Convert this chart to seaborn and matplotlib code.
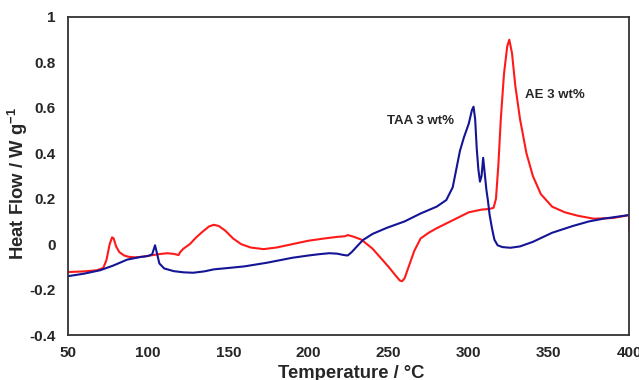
import pandas as pd
import matplotlib
matplotlib.use("Agg")
import matplotlib.pyplot as plt
import seaborn as sns

# DSC traces
taa_temp = [50, 60, 70, 78, 87, 95, 100, 102.5, 104.3, 105.5, 107, 110, 116, 122, 128, 135, 141,
            150, 160, 174, 190, 200, 207, 213, 218, 222, 224.5, 227, 230, 234, 240, 249, 260, 270,
            280, 286, 290, 294.5, 297, 300, 302, 303, 304, 305, 306, 307, 308, 309, 310, 311, 312,
            313, 314.5, 316, 318, 321, 326, 332, 340, 352, 365, 375, 384, 392, 400]
taa_flow = [-0.141, -0.13, -0.115, -0.095, -0.068, -0.057, -0.052, -0.045, -0.005, -0.04, -0.085,
            -0.107, -0.119, -0.124, -0.126, -0.12, -0.111, -0.105, -0.098, -0.082, -0.06, -0.05,
            -0.044, -0.04, -0.042, -0.048, -0.05, -0.035, -0.012, 0.018, 0.045, 0.072, 0.1, 0.135,
            0.165, 0.194, 0.25, 0.41, 0.47, 0.53, 0.59, 0.605, 0.55, 0.42, 0.33, 0.275, 0.3, 0.38,
            0.31, 0.24, 0.19, 0.13, 0.07, 0.02, -0.005, -0.013, -0.016, -0.01, 0.01, 0.05, 0.08,
            0.1, 0.112, 0.12, 0.128]

ae_temp = [50, 60, 68, 72, 74, 76, 77.5, 78.5, 80, 82, 85, 88, 92, 97, 103, 108, 112, 116, 119,
           120, 122, 126, 130, 134, 138, 141, 144, 148, 153, 158, 164, 172, 180, 190, 200, 210,
           218, 223, 224.5, 228, 233, 240, 245, 250, 254, 257, 258.5, 260, 263, 266, 270, 275,
           280, 290, 300, 308, 313, 315.5, 317, 318.5, 320, 322, 324, 325.3, 327, 329, 332, 336,
           340, 345, 352, 360, 368, 378, 390, 400, 400]
ae_flow = [-0.123, -0.12, -0.115, -0.105, -0.07, 0.0, 0.03, 0.025, -0.01, -0.035, -0.05, -0.056,
           -0.058, -0.055, -0.048, -0.043, -0.04, -0.043, -0.048, -0.035, -0.02, 0.0, 0.03, 0.055,
           0.078, 0.085, 0.08, 0.06, 0.025, 0.0, -0.015, -0.022, -0.015, 0.0, 0.015, 0.025, 0.032,
           0.035, 0.04, 0.033, 0.02, -0.02, -0.06, -0.1, -0.135, -0.16, -0.163, -0.15, -0.09,
           -0.03, 0.025, 0.05, 0.07, 0.105, 0.14, 0.152, 0.155, 0.16, 0.2, 0.35, 0.55, 0.75, 0.87,
           0.9, 0.84, 0.7, 0.55, 0.4, 0.3, 0.22, 0.165, 0.14, 0.125, 0.112, 0.115, 0.128, 0.06]

x_ticks = [50, 100, 150, 200, 250, 300, 350, 400]
y_ticks = [-0.4, -0.2, 0, 0.2, 0.4, 0.6, 0.8, 1]
y_tick_labels = ["-0.4", "-0.2", "0", "0.2", "0.4", "0.6", "0.8", "1"]

taa = pd.DataFrame({"T": taa_temp, "HF": taa_flow})
ae = pd.DataFrame({"T": ae_temp, "HF": ae_flow})

sns.set_style("white")
plt.rcParams["font.family"] = ["Liberation Sans", "DejaVu Sans"]
plt.rcParams["font.weight"] = "bold"
plt.rcParams["axes.labelweight"] = "bold"
plt.rcParams["mathtext.fontset"] = "custom"
plt.rcParams["mathtext.rm"] = "Liberation Sans:bold"
plt.rcParams["mathtext.bf"] = "Liberation Sans:bold"
plt.rcParams["mathtext.it"] = "Liberation Sans:bold"
plt.rcParams["mathtext.default"] = "bf"

fig = plt.figure(figsize=(6.39, 3.80), dpi=100)
ax = fig.add_axes([0.1064, 0.1184, 0.878, 0.837])

sns.lineplot(data=ae, x="T", y="HF", ax=ax, color="#ff1a1a", linewidth=1.5,
             estimator=None, sort=False)
sns.lineplot(data=taa, x="T", y="HF", ax=ax, color="#141496", linewidth=1.5,
             estimator=None, sort=False)

ax.set_xlim(50, 400)
ax.set_ylim(-0.4, 1)
ax.set_xticks(x_ticks)
ax.set_yticks(y_ticks)
ax.set_yticklabels(y_tick_labels)
ax.tick_params(direction="in", length=5, width=1.2, color="#333333", labelsize=11)
ax.tick_params(axis="y", pad=9)
ax.tick_params(axis="x", pad=8)
for lbl in ax.get_xticklabels() + ax.get_yticklabels():
    lbl.set_fontweight("bold")
for sp in ax.spines.values():
    sp.set_color("#333333")
    sp.set_linewidth(1.3)

ax.set_xlabel("Temperature / °C", fontsize=13.3, fontweight="bold")
ax.set_ylabel("Heat Flow / W g$^{-1}$", fontsize=13.3, fontweight="bold")
ax.xaxis.set_label_coords(0.5045, -0.094)
ax.yaxis.set_label_coords(-0.068, 0.478)

ax.text(249, 0.54, "TAA 3 wt%", fontsize=9.5, fontweight="bold", va="center", ha="left")
ax.text(335, 0.656, "AE 3 wt%", fontsize=9.5, fontweight="bold", va="center", ha="left")

fig.savefig("out.png", dpi=100)
